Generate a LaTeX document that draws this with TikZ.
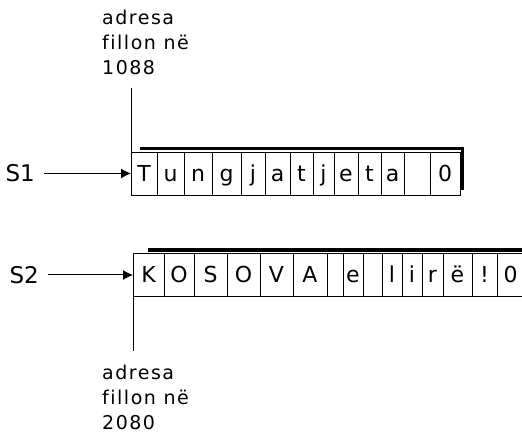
\documentclass[tikz,border=0pt]{standalone}
\usepackage{fontspec}
\setmainfont{DejaVu Sans}
\newfontfamily\adrfont[LetterSpace=8,Ligatures=NoCommon]{DejaVu Sans}
\usetikzlibrary{calc,chains,arrows.meta,positioning}
\tikzset{cell/.style={draw, line width=0.8pt, rectangle, minimum height=43pt, inner sep=0pt, outer sep=0pt, text height=16pt, text depth=0pt, font=\fontsize{22}{22}\selectfont, on chain},
  var/.style={inner sep=0pt, inner xsep=9pt, font=\fontsize{23}{23}\selectfont},
  adr/.style={inner sep=0pt, align=left, font=\adrfont\fontsize{19}{25}\selectfont},
  ptr/.style={-{Latex[length=10pt,width=10pt]}, line width=1pt}, wall/.style={line width=3.5pt}}

\begin{document}
\begin{tikzpicture}[x=1pt, y=1pt, node distance=0pt]
    \useasboundingbox (0,0) rectangle (522,436);
    \begin{scope}[start chain=going right]
        \coordinate[on chain] (r1) at (131,262.5);
        \foreach \w/\c [count=\i] in {26/T,27/u,28/n,29/g,24/j,25/a,23/t,21/j,24/e,23/t,23/a,26/{},30/0}
            \node[cell, minimum width=\w pt] (a\i) {\c};
    \end{scope}
    \begin{scope}[start chain=going right]
        \coordinate[on chain] (r2) at (133,161);
        \foreach \w/\c [count=\i] in {31/K,30/O,33/S,33/O,33/V,34/A,16/{},20/e,19/{},20/l,20/i,21/r,29/ë,25/!,27/0}
            \node[cell, minimum width=\w pt] (b\i) {\c};
    \end{scope}
    \draw[wall] ($(a1.north west)+(9,3.5)$) -| ($(a13.south east)+(2.5,5)$);
    \draw[wall] ($(b1.north west)+(15,3.5)$) -- ($(b15.north east)+(0,3.5)$);
    \node[var, left=87pt of a1] (s1) {S1};
    \node[var, left=85pt of b1] (s2) {S2};
    \draw[ptr] (s1) -- (a1);
    \draw[ptr] (s2) -- (b1);
    \coordinate[above=64pt of a1.north west] (top1);
    \coordinate[below=55pt of b1.south west] (bot2);
    \draw[line width=0.9pt] (top1) -- (a1.north west);
    \draw[line width=0.9pt] (b1.south west) -- (bot2);
    \node[adr, above=13pt of top1, anchor=south west, xshift=-29pt] (adr1) {adresa\\fillon në\\1088};
    \node[adr, below=13pt of bot2, anchor=north west, xshift=-31pt] (adr2) {adresa\\fillon në\\2080};
\end{tikzpicture}
\end{document}
